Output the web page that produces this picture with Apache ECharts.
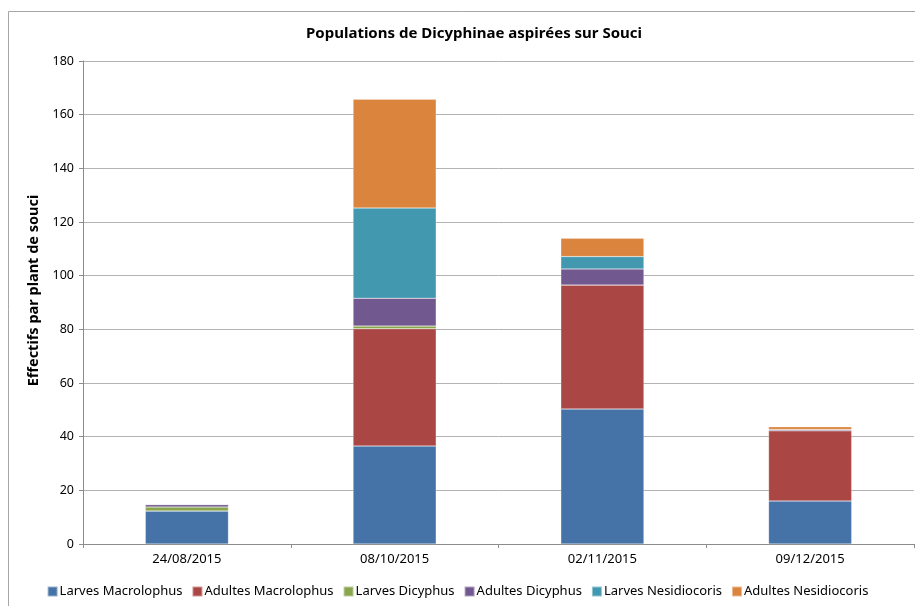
<!DOCTYPE html>
<html>
<head>
<meta charset="utf-8">
<script src="https://cdn.jsdelivr.net/npm/echarts@6/dist/echarts.min.js"></script>
<style>
  html, body { margin: 0; padding: 0; background: #fff; }
  #chart { width: 915px; height: 606px; }
</style>
</head>
<body>
<div id="chart"></div>
<script>
const dates = ['24/08/2015', '08/10/2015', '02/11/2015', '09/12/2015']
const larvesMacrolophus = [12.3, 36.5, 50.3, 16]
const adultesMacrolophus = [0, 43.7, 46.2, 26.2]
const larvesDicyphus = [1.5, 1.0, 0, 0]
const adultesDicyphus = [0.9, 10.4, 6, 0.5]
const larvesNesidiocoris = [0, 33.6, 4.6, 0]
const adultesNesidiocoris = [0, 40.5, 6.8, 1.0]
const yTicks = [0, 20, 40, 60, 80, 100, 120, 140, 160, 180]

const chart = echarts.init(document.getElementById('chart'))

const font = 'Noto Sans'
function bar(name, data, color) {
  return {
    name: name,
    type: 'bar',
    stack: 'total',
    barWidth: '40%',
    data: data,
    itemStyle: {
      color: color,
      borderColor: 'rgba(255,255,255,0.45)',
      borderWidth: 0.5
    }
  }
}

const option = {
  animation: false,
  textStyle: { fontFamily: font },
  title: {
    text: 'Populations de Dicyphinae aspirées sur Souci',
    left: 301,
    top: 21,
    textStyle: { fontSize: 15, fontWeight: 'bold', color: '#000', fontFamily: font }
  },
  graphic: [
    {
      type: 'rect',
      shape: { x: 8.5, y: 11.5, width: 920, height: 620 },
      style: { fill: 'none', stroke: '#a6a6a6', lineWidth: 1 },
      silent: true
    }
  ],
  legend: {
    bottom: 3,
    left: 'center',
    itemWidth: 10,
    itemHeight: 10,
    itemGap: 9,
    icon: 'rect',
    textStyle: { fontSize: 13, color: '#000', padding: [0, 0, 0, -3] },
    data: ['Larves Macrolophus', 'Adultes Macrolophus', 'Larves Dicyphus', 'Adultes Dicyphus', 'Larves Nesidiocoris', 'Adultes Nesidiocoris']
  },
  grid: {
    left: 83,
    right: 1,
    top: 61,
    bottom: 62
  },
  xAxis: {
    type: 'category',
    data: dates,
    axisLine: { lineStyle: { color: '#8c8c8c' } },
    axisTick: { show: true, length: 4, lineStyle: { color: '#8c8c8c' } },
    axisLabel: { color: '#000', fontSize: 13, margin: 9 }
  },
  yAxis: {
    type: 'value',
    min: yTicks[0],
    max: yTicks[yTicks.length - 1],
    interval: yTicks[1] - yTicks[0],
    name: 'Effectifs par plant de souci',
    nameLocation: 'middle',
    nameGap: 42,
    nameTextStyle: { fontSize: 14.5, fontWeight: 'bold', color: '#000', padding: [0, 0, 0, 24] },
    axisLine: { show: true, lineStyle: { color: '#8c8c8c' } },
    axisTick: { show: true, length: 4, lineStyle: { color: '#8c8c8c' } },
    axisLabel: { color: '#000', fontSize: 12.5, margin: 9 },
    splitLine: { lineStyle: { color: '#b3b3b3' } }
  },
  series: [
    bar('Larves Macrolophus', larvesMacrolophus, '#4572A7'),
    bar('Adultes Macrolophus', adultesMacrolophus, '#AA4643'),
    bar('Larves Dicyphus', larvesDicyphus, '#89A54E'),
    bar('Adultes Dicyphus', adultesDicyphus, '#71588F'),
    bar('Larves Nesidiocoris', larvesNesidiocoris, '#4198AF'),
    bar('Adultes Nesidiocoris', adultesNesidiocoris, '#DB843D')
  ]
}

chart.setOption(option)
</script>
</body>
</html>
